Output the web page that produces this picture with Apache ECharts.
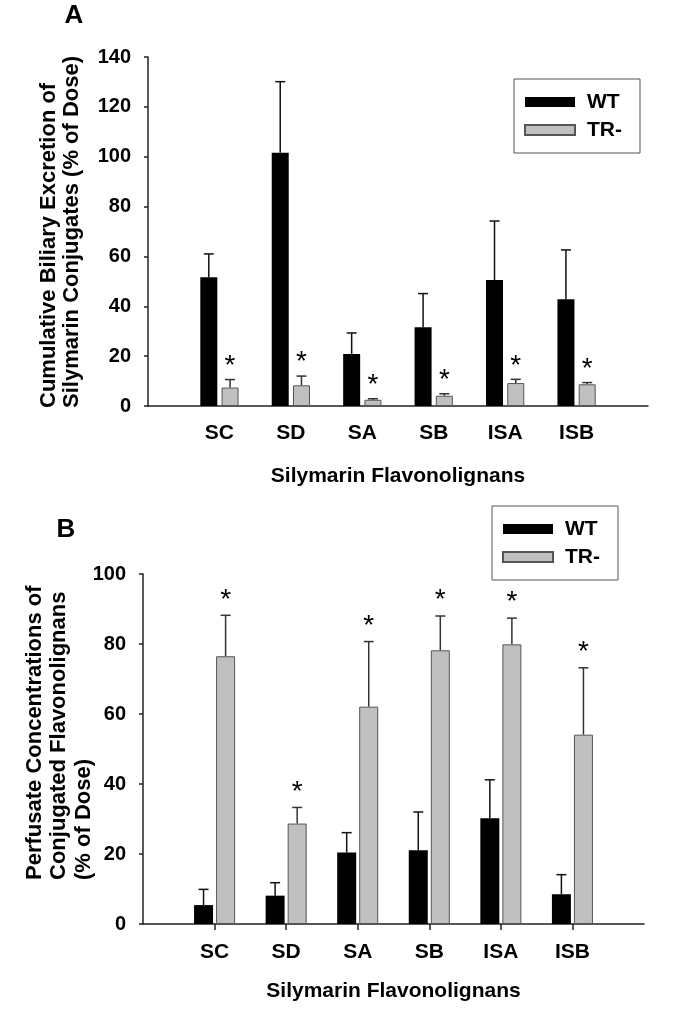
<!DOCTYPE html>
<html>
<head>
<meta charset="utf-8">
<script src="https://cdn.jsdelivr.net/npm/echarts@6/dist/echarts.min.js"></script>
<style>
html,body{margin:0;padding:0;background:#fff;}
#chart{width:676px;height:1018px;}
</style>
</head>
<body>
<div id="chart"></div>
<script>
// ---- data ----
const categories = ['SC', 'SD', 'SA', 'SB', 'ISA', 'ISB'];
const seriesNames = ['WT', 'TR-'];
// Panel A: cumulative biliary excretion (% of dose)
const biliaryWT   = [51.6, 101.6, 20.9, 31.6, 50.5, 42.8];
const biliaryWTsd = [9.4, 28.5, 8.4, 13.5, 23.7, 19.8];
const biliaryTR   = [7.4, 8.3, 2.5, 4.1, 9.2, 8.7];
const biliaryTRsd = [3.2, 3.7, 0.4, 0.8, 1.5, 0.7];
const biliarySig  = [1, 1, 1, 1, 1, 1];
// Panel B: perfusate concentrations (% of dose)
const perfusateWT   = [5.4, 8.1, 20.4, 21.1, 30.2, 8.5];
const perfusateWTsd = [4.5, 3.7, 5.7, 10.9, 11.0, 5.6];
const perfusateTR   = [76.5, 28.7, 62.1, 78.2, 79.9, 54.1];
const perfusateTRsd = [11.7, 4.6, 18.6, 9.8, 7.5, 19.1];
const perfusateSig  = [1, 1, 1, 1, 1, 1];
// axis ranges
const yAMax = 140, yAStep = 20;
const yBMax = 100, yBStep = 20;
const xTitle = 'Silymarin Flavonolignans';
const yTitleA = 'Cumulative Biliary Excretion of\nSilymarin Conjugates (% of Dose)';
const yTitleB = 'Perfusate Concentrations of\nConjugated Flavonolignans\n(% of Dose)';

// ---- chart ----
const FONT = '"Liberation Sans", Arial, sans-serif';
const xCats = [''].concat(categories, ['']);
const pad = arr => ['-'].concat(arr, ['-']);

function errSeries(name, axisIdx, means, sds, sig, side, bw, gapFrac, color, starLift) {
  return {
    type: 'custom', name: name, xAxisIndex: axisIdx, yAxisIndex: axisIdx,
    z: 5, silent: true,
    data: means.map((m, i) => [i + 1, m, sds[i], sig ? sig[i] : 0]),
    encode: { x: 0, y: 1 },
    renderItem: function (params, api) {
      const base = api.coord([api.value(0), api.value(1)]);
      const top = api.coord([api.value(0), api.value(1) + api.value(2)]);
      const x = base[0] + side * (bw + bw * gapFrac) / 2;
      const children = [
        { type: 'line', shape: { x1: x, y1: base[1], x2: x, y2: top[1] }, style: { stroke: color, lineWidth: 1.5 } },
        { type: 'line', shape: { x1: x - 5, y1: top[1], x2: x + 5, y2: top[1] }, style: { stroke: color, lineWidth: 1.5 } }
      ];
      if (api.value(3)) {
        children.push({ type: 'text', x: x, y: top[1] - starLift,
          style: { text: '*', font: '28px ' + FONT, align: 'center', verticalAlign: 'middle', fill: '#000' } });
      }
      return { type: 'group', children: children };
    }
  };
}

const axisLineStyle = { color: '#222', width: 1.5 };
const catLabel = { interval: 0, fontSize: 21, fontWeight: 'bold', color: '#000', fontFamily: FONT };
const valLabel = { fontSize: 20, fontWeight: 'bold', color: '#000', fontFamily: FONT, margin: 17 };
const nameStyle = { fontSize: 21, fontWeight: 'bold', color: '#000', fontFamily: FONT };

function legendAt(left, top) {
  return {
    data: seriesNames, orient: 'vertical', left: left, top: top,
    itemWidth: 50, itemHeight: 10, itemGap: 6, icon: 'rect',
    padding: [12, 18, 12, 10], borderColor: '#555', borderWidth: 1,
    selectedMode: false,
    textStyle: { fontSize: 21, fontWeight: 'bold', color: '#000', fontFamily: FONT, lineHeight: 22, padding: [0, 0, 0, 7] }
  };
}

const option = {
  animation: false,
  backgroundColor: '#fff',
  textStyle: { fontFamily: FONT },
  grid: [
    { left: 148, top: 57, width: 500, height: 349 },
    { left: 143, top: 574, width: 501, height: 350 }
  ],
  xAxis: [
    { gridIndex: 0, type: 'category', data: xCats, boundaryGap: false,
      axisLine: { lineStyle: axisLineStyle }, axisTick: { show: false },
      axisLabel: Object.assign({ margin: 17 }, catLabel),
      name: xTitle, nameLocation: 'middle', nameGap: 60, nameTextStyle: nameStyle },
    { gridIndex: 1, type: 'category', data: xCats, boundaryGap: false,
      axisLine: { lineStyle: axisLineStyle },
      axisTick: { show: true, length: 6, lineStyle: { color: '#222', width: 1.5 },
        interval: function (i) { return i >= 1 && i <= categories.length; } },
      axisLabel: Object.assign({ margin: 18 }, catLabel),
      name: xTitle, nameLocation: 'middle', nameGap: 57, nameTextStyle: nameStyle }
  ],
  yAxis: [
    { gridIndex: 0, type: 'value', min: 0, max: yAMax, interval: yAStep,
      axisLine: { show: true, lineStyle: axisLineStyle },
      axisTick: { show: true, length: 4, lineStyle: { color: '#222', width: 1.5 } },
      splitLine: { show: false }, axisLabel: valLabel },
    { gridIndex: 1, type: 'value', min: 0, max: yBMax, interval: yBStep,
      axisLine: { show: true, lineStyle: axisLineStyle },
      axisTick: { show: true, length: 4, lineStyle: { color: '#222', width: 1.5 } },
      splitLine: { show: false }, axisLabel: valLabel }
  ],
  legend: [legendAt(514, 79), legendAt(492, 506)],
  series: [
    { name: 'WT', type: 'bar', xAxisIndex: 0, yAxisIndex: 0, data: pad(biliaryWT),
      barWidth: 17, barGap: '25%', itemStyle: { color: '#000' } },
    { name: 'TR-', type: 'bar', xAxisIndex: 0, yAxisIndex: 0, data: pad(biliaryTR),
      barWidth: 17, barGap: '25%', itemStyle: { color: '#c0c0c0', borderColor: '#555', borderWidth: 1 } },
    { name: 'WT', type: 'bar', xAxisIndex: 1, yAxisIndex: 1, data: pad(perfusateWT),
      barWidth: 19, barGap: '16%', itemStyle: { color: '#000' } },
    { name: 'TR-', type: 'bar', xAxisIndex: 1, yAxisIndex: 1, data: pad(perfusateTR),
      barWidth: 19, barGap: '16%', itemStyle: { color: '#c0c0c0', borderColor: '#555', borderWidth: 1 } },
    errSeries('WT err A', 0, biliaryWT, biliaryWTsd, null, -1, 17, 0.25, '#111', 0),
    errSeries('TR- err A', 0, biliaryTR, biliaryTRsd, biliarySig, 1, 17, 0.25, '#333', 13.5),
    errSeries('WT err B', 1, perfusateWT, perfusateWTsd, null, -1, 19, 0.16, '#111', 0),
    errSeries('TR- err B', 1, perfusateTR, perfusateTRsd, perfusateSig, 1, 19, 0.16, '#333', 15.5)
  ],
  graphic: [
    { type: 'text', x: 74, y: 16, style: { text: 'A', font: 'bold 26px ' + FONT, align: 'center', verticalAlign: 'middle', fill: '#000' } },
    { type: 'text', x: 66, y: 530, style: { text: 'B', font: 'bold 26px ' + FONT, align: 'center', verticalAlign: 'middle', fill: '#000' } },
    { type: 'text', x: 60, y: 408, rotation: Math.PI / 2,
      style: { text: yTitleA, font: 'bold 22px ' + FONT, lineHeight: 23, align: 'left', verticalAlign: 'middle', fill: '#000' } },
    { type: 'text', x: 59, y: 880, rotation: Math.PI / 2,
      style: { text: yTitleB, font: 'bold 22px ' + FONT, lineHeight: 24.5, align: 'left', verticalAlign: 'middle', fill: '#000' } }
  ]
};

const chart = echarts.init(document.getElementById('chart'), null, { renderer: 'canvas' });
chart.setOption(option);
</script>
</body>
</html>
